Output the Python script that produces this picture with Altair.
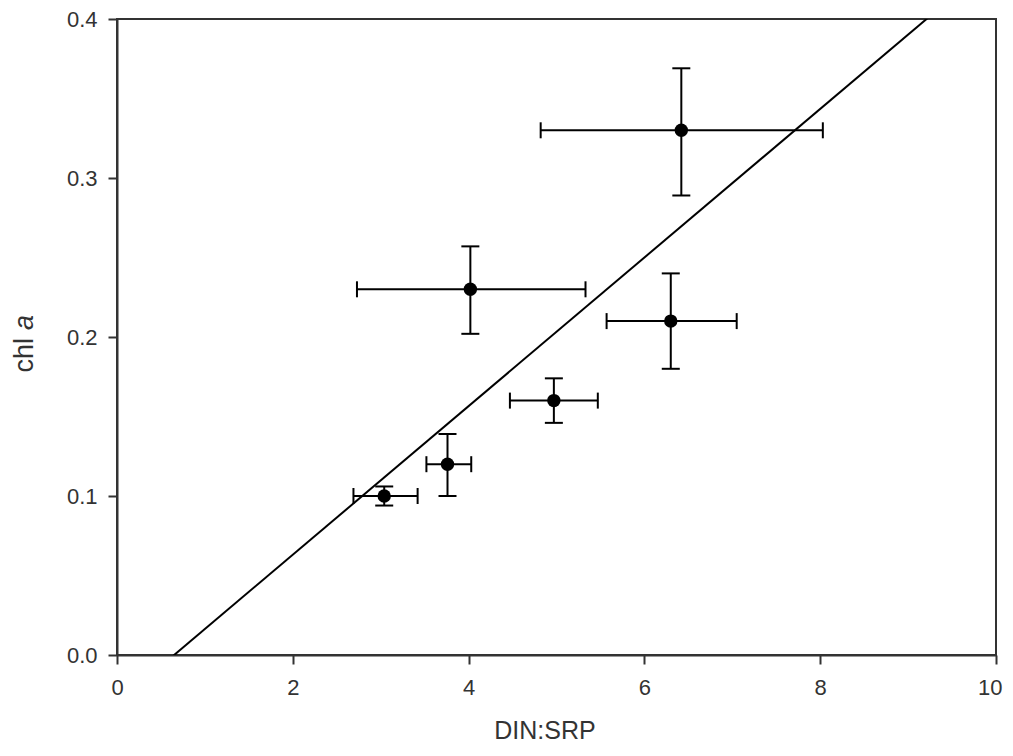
import altair as alt
import pandas as pd

# Data
din_srp = [3.04, 3.76, 4.02, 4.97, 6.30, 6.42]
chl = [0.100, 0.120, 0.230, 0.160, 0.210, 0.330]
din_lo = [2.69, 3.52, 2.73, 4.47, 5.57, 4.82]
din_hi = [3.42, 4.03, 5.33, 5.47, 7.05, 8.03]
chl_lo = [0.094, 0.100, 0.202, 0.146, 0.180, 0.289]
chl_hi = [0.106, 0.139, 0.257, 0.174, 0.240, 0.369]

x_ticks = [0, 2, 4, 6, 8, 10]
y_ticks = [0.0, 0.1, 0.2, 0.3, 0.4]

df = pd.DataFrame({
    "x": din_srp, "y": chl,
    "xlo": din_lo, "xhi": din_hi,
    "ylo": chl_lo, "yhi": chl_hi,
})

W, H = 879, 636
INK = "#333333"
FONT = "Liberation Sans"

xs = alt.Scale(domain=[0, 10], nice=False, zero=False)
ys = alt.Scale(domain=[0, 0.4], nice=False, zero=False)
xaxis = alt.Axis(values=x_ticks, format="d", title=None, grid=False,
                 labelFlush=True, labelFlushOffset=6)
yaxis = alt.Axis(values=y_ticks, format=".1f", title=None, grid=False, labelFlush=False)

base = alt.Chart(df)
rule_style = dict(color="black", strokeWidth=2)

hbar = base.mark_rule(**rule_style).encode(
    x=alt.X("xlo:Q", scale=xs, axis=xaxis), x2="xhi:Q",
    y=alt.Y("y:Q", scale=ys, axis=yaxis))
vbar = base.mark_rule(**rule_style).encode(
    x=alt.X("x:Q", scale=xs, axis=xaxis),
    y=alt.Y("ylo:Q", scale=ys, axis=yaxis), y2="yhi:Q")
cap_l = base.mark_rule(yOffset=-8, y2Offset=8, **rule_style).encode(
    x=alt.X("xlo:Q", scale=xs, axis=xaxis),
    y=alt.Y("y:Q", scale=ys, axis=yaxis), y2="y:Q")
cap_r = base.mark_rule(yOffset=-8, y2Offset=8, **rule_style).encode(
    x=alt.X("xhi:Q", scale=xs, axis=xaxis),
    y=alt.Y("y:Q", scale=ys, axis=yaxis), y2="y:Q")
cap_t = base.mark_rule(xOffset=-9, x2Offset=9, **rule_style).encode(
    x=alt.X("x:Q", scale=xs, axis=xaxis), x2="x:Q",
    y=alt.Y("yhi:Q", scale=ys, axis=yaxis))
cap_b = base.mark_rule(xOffset=-9, x2Offset=9, **rule_style).encode(
    x=alt.X("x:Q", scale=xs, axis=xaxis), x2="x:Q",
    y=alt.Y("ylo:Q", scale=ys, axis=yaxis))

points = base.mark_circle(size=180, color="black", opacity=1).encode(
    x=alt.X("x:Q", scale=xs, axis=xaxis),
    y=alt.Y("y:Q", scale=ys, axis=yaxis))

fit = base.transform_regression("x", "y", extent=[0, 10]).mark_line(
    color="black", strokeWidth=2, clip=True).encode(
    x=alt.X("x:Q", scale=xs, axis=xaxis),
    y=alt.Y("y:Q", scale=ys, axis=yaxis))

xtitle = alt.Chart(pd.DataFrame({"t": ["DIN:SRP"]})).mark_text(
    font=FONT, fontSize=25, color=INK, align="center", baseline="middle"
).encode(text="t:N", x=alt.value(428), y=alt.value(712))

ytitle1 = alt.Chart(pd.DataFrame({"t": ["chl"]})).mark_text(
    font=FONT, fontSize=27, color=INK, angle=270, align="right", baseline="middle"
).encode(text="t:N", x=alt.value(-92), y=alt.value(319))
ytitle2 = alt.Chart(pd.DataFrame({"t": ["a"]})).mark_text(
    font=FONT, fontSize=27, fontStyle="italic", color=INK, angle=270,
    align="left", baseline="middle"
).encode(text="t:N", x=alt.value(-92), y=alt.value(311))

chart = alt.layer(
    hbar, vbar, cap_l, cap_r, cap_t, cap_b, fit, points, xtitle, ytitle1, ytitle2
).properties(
    width=W, height=H,
    autosize=alt.AutoSizeParams(type="none"),
    padding={"left": 109, "top": 11, "right": 9, "bottom": 90},
).configure_view(
    stroke=INK, strokeWidth=2
).configure_axis(
    domainColor=INK, domainWidth=2, tickColor=INK, tickWidth=2, tickSize=9,
    labelFont=FONT, labelFontSize=22, labelColor=INK,
).configure_axisX(
    labelPadding=13
).configure_axisY(
    labelPadding=11
)

chart.save("out.html", embed_options={"renderer": "svg", "actions": False})
